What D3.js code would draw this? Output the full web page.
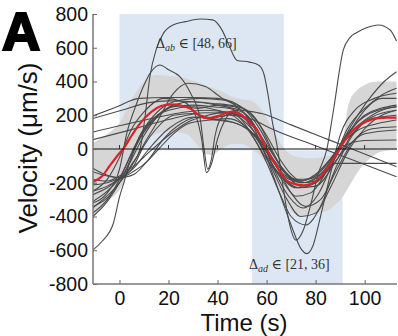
<!DOCTYPE html>
<html><head><meta charset="utf-8">
<script src="https://cdn.jsdelivr.net/npm/d3@7"></script>
<style>
html,body{margin:0;padding:0;background:#fff;}
svg{display:block;}
</style></head>
<body>
<svg id="chart" width="398" height="336"></svg>
<script>
// ---------- DATA ----------
const yTicks = [-800,-600,-400,-200,0,200,400,600,800];
const yTickLabels = ["-800","-600","-400","-200","0","200","400","600","800"];
const xTicks = [0,20,40,60,80,100];
const xTickLabels = ["0","20","40","60","80","100"];

const shadeAB = [0, 67];   // time window, upper half
const shadeAD = [54, 91];  // time window, lower half

const meanT = [-11,-7,-4,0,1.5,5,8.4,13,17,21,25,29,33,36,40,46,50,53,56,60,64,68,72,75,80,84,87,91,94,97,101,105,109,113];
const meanV = [-195,-160,-100,-25,0,80,152,220,255,265,258,238,195,182,195,221,200,160,113,0,-100,-184,-210,-215,-190,-130,-65,30,90,132,165,182,186,186];

const bandT = [-11,-8,-4,0,3,6,10,15,20,27,32,35,38,41,46,50,54,58,62,65,68,71,74,79,84,88,90.5,93.5,97,100,104,108,113];
const bandUpper = [35,60,100,154,235,320,400,438,432,420,395,380,360,345,310,295,285,230,130,50,-10,-40,-50,-55,-45,-20,10,270,350,380,398,400,400];
const bandLower = [-420,-360,-300,-243,-160,-60,30,90,105,90,20,-30,-35,-5,30,30,0,-50,-130,-230,-330,-380,-395,-380,-370,-330,-295,-225,-140,-85,-35,-12,-6];

const trace1 = [[-11,-600],[-7,-545],[-2.5,-440],[0,-285],[2,-190],[4.3,-70],[8,70],[13,170],[20,230],[30,250],[40,230],[48,180],[55,60],[60,-80],[65,-250],[70,-400],[76,-450],[82,-340],[88,-120],[95,80],[103,180],[113,200]];
const trace2 = [[-11,-350],[-6,-290],[0,-200],[5,-90],[8.4,0],[10.5,200],[12.4,428],[15,590],[17.9,685],[21.8,735],[27,755],[33,770],[38,765],[42,700],[44.5,620],[48,525],[53,515],[57,495],[59,440],[60.5,330],[62,190],[64.5,0],[67,-250],[69,-420],[72,-540],[75,-480],[78,-330],[81,-150],[84.6,0],[87.3,231],[91.3,587],[94,660],[96.8,690],[101,720],[105.6,735],[110.4,705],[113,640]];
const trace3 = [[-11,-320],[-5,-260],[0,-120],[3,94],[6.5,250],[9.7,369],[13,460],[16.5,498],[20,470],[24.7,428],[29,330],[32.9,180],[34.5,0],[36,-120],[37.5,-60],[39,80],[42,190],[46,210],[50,170],[55,60],[60,-60],[65,-150],[72,-230],[80,-220],[88,-80],[95,90],[103,190],[113,230]];
const trace4 = [[-11,-250],[-5,-180],[0,-50],[5,120],[10,220],[18,300],[26,280],[31,200],[33.5,60],[35.5,-140],[37.5,-90],[40,60],[43,170],[47,230],[52,200],[57,90],[62,-80],[67,-200],[72,-280],[78,-260],[85,-120],[92,60],[100,200],[113,260]];
const trace5 = [[-11,-380],[-5,-300],[0,-180],[5,-20],[10,120],[17,240],[25,290],[33,300],[42,290],[48,250],[54,150],[60,-50],[65,-250],[70,-450],[74,-590],[76.4,-620],[79,-570],[82,-400],[86,-150],[90,80],[96,230],[104,300],[113,330]];
const trace6 = [[-11,195],[-1.5,247],[8,300],[20,305],[30,305],[40,300],[46,280],[52,220],[58,100],[63,-40],[68,-150],[74,-220],[80,-200],[87,-80],[93,80],[100,230],[107,320],[113,360]];
const trace7 = [[-11,180],[0.5,228],[12,275],[20,285],[30,280],[40,260],[50,230],[58,210],[70,143],[85,57],[100,-30],[113,-105]];
const trace8 = [[-11,100],[10,170],[25,215],[35,230],[45,215],[52,150],[57,60],[62,-60],[68,-170],[75,-200],[82,-150],[88,-85],[100,-85],[113,-85]];
const trace9 = [[-11,55],[5,115],[20,175],[35,215],[45,210],[55,170],[62,120],[80,19],[100,-92],[113,-165]];
const trace10 = [[-11,-113],[-6,-150],[0,-170],[4,-80],[8,60],[14,180],[22,250],[30,260],[38,250],[45,240],[50,200],[55,100],[60,-40],[66,-160],[73,-230],[80,-200],[86,-80],[92,60],[100,170],[107,230],[113,250]];
const trace11 = [[-11,-134],[-5,-160],[0,-170],[5,-120],[10,20],[15,120],[22,200],[30,210],[38,185],[45,200],[51,190],[56,120],[61,-20],[66,-120],[72,-180],[78,-175],[84,-100],[90,20],[97,110],[105,150],[113,172]];
const trace12 = [[-11,-213],[-5,-200],[0,-175],[6,-150],[12,-60],[18,60],[25,150],[32,190],[40,175],[46,160],[52,120],[58,40],[64,-100],[70,-260],[76,-340],[82,-300],[88,-140],[95,40],[103,120],[113,132]];
const trace13 = [[-11,-272],[-5,-230],[0,-180],[5,-140],[10,-90],[16,0],[22,90],[28,150],[36,170],[44,180],[50,150],[56,60],[62,-110],[68,-290],[74,-400],[80,-380],[86,-230],[93,-20],[100,120],[107,200],[113,230]];
const trace14 = [[-11,-312],[-5,-250],[0,-170],[5,-30],[10,100],[16,200],[24,260],[32,240],[40,260],[47,250],[53,180],[58,60],[63,-120],[69,-280],[75,-350],[81,-270],[87,-80],[93,120],[100,240],[107,300],[113,300]];
const trace15 = [[-11,-342],[-5,-290],[0,-200],[5,-100],[10,30],[15,150],[22,330],[28,390],[35,370],[42,300],[48,260],[54,200],[60,80],[65,-50],[70,-150],[76,-200],[82,-150],[88,-30],[95,150],[102,300],[108,400],[113,458]];
const trace16 = [[-11,-401],[-6,-330],[0,-200],[5,-60],[10,80],[16,200],[22,260],[30,280],[38,270],[45,260],[52,230],[57,150],[62,0],[67,-130],[73,-190],[80,-160],[87,-40],[94,110],[102,210],[113,251]];
const trace17 = [[-11,-180],[-5,-190],[0,-160],[6,-100],[12,-20],[20,80],[28,160],[36,200],[44,220],[50,190],[56,110],[62,-20],[68,-140],[74,-200],[80,-190],[86,-110],[92,0],[100,90],[113,113]];
const trace18 = [[-11,-250],[-5,-220],[0,-175],[6,-110],[12,0],[20,120],[30,190],[40,170],[48,150],[55,80],[61,-40],[67,-150],[74,-190],[80,-150],[86,-60],[92,20],[100,50],[113,53]];
const traces = [trace1,trace2,trace3,trace4,trace5,trace6,trace7,trace8,trace9,trace10,trace11,trace12,trace13,trace14,trace15,trace16,trace17,trace18];

// ---------- DRAW ----------
const svg = d3.select("#chart");
const x = d3.scaleLinear().domain([-10.8, 113.2]).range([93, 397]);
const y = d3.scaleLinear().domain([-800, 800]).range([284, 14]);

svg.append("defs").append("clipPath").attr("id","clip")
  .append("rect").attr("x",93).attr("y",14).attr("width",304).attr("height",270);

const plot = svg.append("g").attr("clip-path","url(#clip)");

// shaded windows
plot.append("rect").attr("x", x(shadeAB[0])).attr("width", x(shadeAB[1]) - x(shadeAB[0]))
  .attr("y", y(800)).attr("height", y(-8) - y(800)).attr("fill", "#dce7f3");
plot.append("rect").attr("x", x(shadeAD[0])).attr("width", x(shadeAD[1]) - x(shadeAD[0]))
  .attr("y", y(-8)).attr("height", y(-800) - y(-8)).attr("fill", "#dce7f3");

// band
const band = bandT.map((t,i)=>({t, lo: bandLower[i], hi: bandUpper[i]}));
plot.append("path").datum(band)
  .attr("d", d3.area().x(d=>x(d.t)).y0(d=>y(d.lo)).y1(d=>y(d.hi)).curve(d3.curveMonotoneX))
  .attr("fill", "#d6d6d6");

// zero line
svg.append("line").attr("x1", 93).attr("x2", 397).attr("y1", y(0)).attr("y2", y(0))
  .attr("stroke", "#111").attr("stroke-width", 1.1);
svg.selectAll(".zt").data(xTicks).enter().append("line")
  .attr("x1", d=>x(d)).attr("x2", d=>x(d)).attr("y1", y(0)).attr("y2", y(0)-4)
  .attr("stroke", "#333").attr("stroke-width", 1);

// traces
const line = d3.line().x(d=>x(d[0])).y(d=>y(d[1])).curve(d3.curveMonotoneX);
plot.selectAll(".trace").data(traces).enter().append("path")
  .attr("d", line).attr("fill","none").attr("stroke","#4a4a4a").attr("stroke-width",1.1);

// mean
plot.append("path").datum(meanT.map((t,i)=>[t, meanV[i]]))
  .attr("d", line).attr("fill","none").attr("stroke","#d9232a").attr("stroke-width",2.2);

// axes
const yAxis = d3.axisLeft(y).tickValues(yTicks).tickFormat((d,i)=>yTickLabels[i]).tickSize(-4).tickPadding(5);
const gy = svg.append("g").attr("transform","translate(93,0)").call(yAxis);
const xAxis = d3.axisBottom(x).tickValues(xTicks).tickFormat((d,i)=>xTickLabels[i]).tickSize(-4).tickPadding(7);
const gx = svg.append("g").attr("transform","translate(0,284)").call(xAxis);
[gx, gy].forEach(g=>{
  g.select(".domain").attr("stroke","#777").attr("stroke-width",1.5);
  g.selectAll(".tick line").attr("stroke","#666").attr("stroke-width",1);
  g.selectAll("text").attr("font-family","'Liberation Sans', Arial, sans-serif").attr("font-size",19.5).attr("fill","#111");
});
gx.select(".domain").attr("d","M93,0H397");
gy.select(".domain").attr("d","M0,14V284");

// axis titles
svg.append("text").attr("x", 244).attr("y", 331).attr("text-anchor","middle")
  .attr("font-family","'Liberation Sans', Arial, sans-serif").attr("font-size",24).attr("fill","#111")
  .text("Time (s)");
svg.append("text").attr("transform","translate(37,148) rotate(-90)").attr("text-anchor","middle")
  .attr("font-family","'Liberation Sans', Arial, sans-serif").attr("font-size",26).attr("fill","#111")
  .text("Velocity (μm/s)");

// panel letter
svg.append("text").attr("x", 2).attr("y", 50)
  .attr("font-family","'Liberation Sans', Arial, sans-serif").attr("font-weight","bold").attr("font-size",53)
  .attr("fill","#000").attr("stroke","#000").attr("stroke-width",2.2).text("A");

// annotations
function annot(xp, yp, sub, rest){
  const t = svg.append("text").attr("x", xp).attr("y", yp)
    .attr("font-family","'Liberation Serif','DejaVu Serif',serif").attr("font-size",14).attr("fill","#333");
  t.append("tspan").text("Δ");
  t.append("tspan").attr("font-style","italic").attr("font-size",10).attr("dy",3).text(sub);
  t.append("tspan").attr("dy",-3).text(" ∈ " + rest);
}
annot(156, 48, "ab", "[48, 66]");
annot(249, 269, "ad", "[21, 36]");
</script>
</body></html>
